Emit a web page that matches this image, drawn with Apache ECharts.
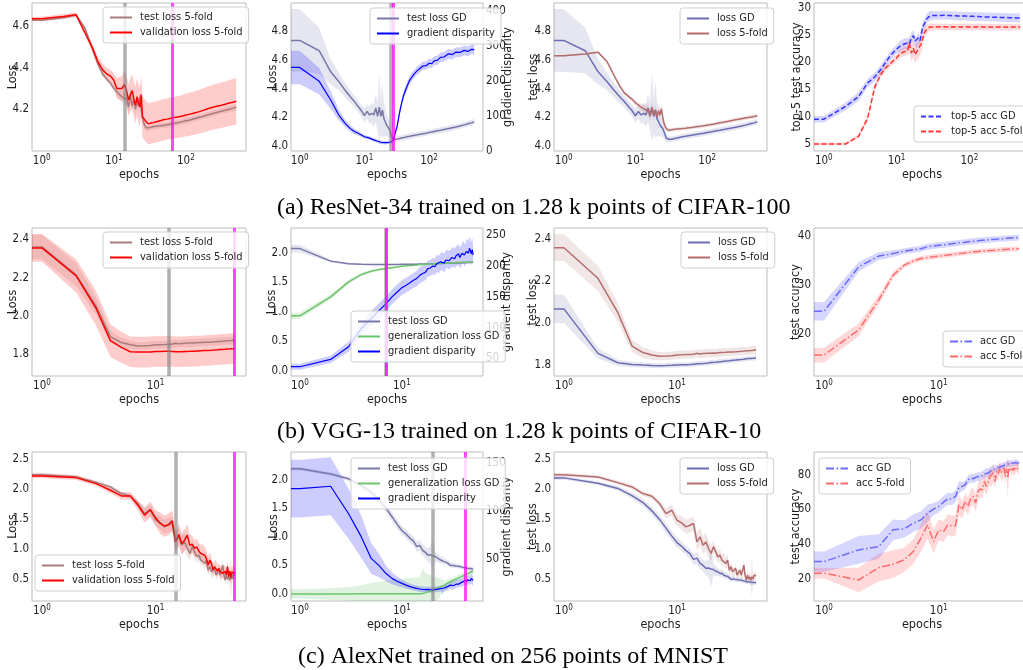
<!DOCTYPE html>
<html>
<head>
<meta charset="utf-8">
<title>Training curves: GD vs 5-fold</title>
<script src="https://cdn.jsdelivr.net/npm/echarts@6/dist/echarts.min.js"></script>
<style>
  html, body { margin: 0; padding: 0; background: #ffffff; }
  #chart { width: 1023px; height: 670px; }
</style>
</head>
<body>
<div id="chart"></div>
<script>
// ---------------------------------------------------------------------------
// Data
// ---------------------------------------------------------------------------

// (a) ResNet-34, CIFAR-100 (500 epochs, sampled)
const resnetEpochs = [1,2,3,4,5,6,7,8,9,10, 11,12,13,14,15,16,17,18,19,20, 21,22,23,24,25,26,27,28,29,30,
  32,35,38,40,45,50,55,60,65,70, 80,90,100,110,120,135,150,170,200,230, 260,300,350,400,450,500];

const resnetValLoss5Fold = [4.637,4.648,4.656,4.568,4.50,4.43,4.39,4.37,4.36,4.34, 4.30,4.30,4.30,4.32,4.29,4.245,4.27,4.29,4.245,4.22,
  4.26,4.23,4.21,4.27,4.165,4.155,4.148,4.14,4.135,4.13, 4.132,4.135,4.138,4.14,4.145,4.15,4.152,4.155,4.157,4.16,
  4.163,4.167,4.172,4.175,4.178,4.183,4.187,4.193,4.202,4.208, 4.213,4.218,4.224,4.23,4.234,4.238];
const resnetValLoss5FoldSd = [0.01,0.012,0.012,0.015,0.02,0.025,0.03,0.03,0.03,0.035, 0.05,0.055,0.06,0.07,0.07,0.075,0.08,0.08,0.085,0.09,
  0.09,0.095,0.095,0.1,0.1,0.1,0.1,0.1,0.1,0.1, 0.1,0.1,0.1,0.1,0.1,0.1,0.1,0.1,0.1,0.1,
  0.101,0.102,0.103,0.104,0.104,0.105,0.106,0.107,0.108,0.108, 0.109,0.11,0.11,0.111,0.112,0.113];

const resnetTestLoss5Fold = [4.63,4.642,4.655,4.59,4.495,4.42,4.37,4.345,4.325,4.30, 4.285,4.27,4.26,4.25,4.255,4.21,4.27,4.215,4.25,4.2,
  4.245,4.215,4.26,4.2,4.157,4.135,4.12,4.11,4.108,4.11, 4.112,4.115,4.117,4.118,4.12,4.122,4.125,4.127,4.13,4.132,
  4.136,4.14,4.144,4.147,4.15,4.155,4.16,4.165,4.172,4.178, 4.183,4.189,4.195,4.2,4.205,4.21];
const resnetTestLoss5FoldSd = [0.005,0.005,0.006,0.01,0.012,0.012,0.012,0.012,0.013,0.015, 0.02,0.025,0.03,0.03,0.035,0.04,0.04,0.035,0.04,0.035,
  0.035,0.03,0.03,0.03,0.025,0.02,0.018,0.015,0.015,0.015, 0.013,0.013,0.013,0.013,0.013,0.013,0.013,0.013,0.013,0.013,
  0.013,0.013,0.013,0.013,0.013,0.013,0.013,0.013,0.014,0.014, 0.014,0.014,0.015,0.015,0.016,0.016];

const resnetTestLossGD = [4.737,4.665,4.519,4.45,4.39,4.344,4.31,4.274,4.245,4.21, 4.24,4.215,4.227,4.215,4.265,4.205,4.27,4.205,4.25,4.19,
  4.168,4.145,4.133,4.12,4.098,4.075,4.052,4.048,4.045,4.044, 4.046,4.05,4.054,4.056,4.062,4.066,4.07,4.073,4.076,4.079,
  4.083,4.088,4.093,4.096,4.1,4.105,4.109,4.114,4.12,4.126, 4.131,4.138,4.146,4.154,4.16,4.167];
const resnetTestLossGDSd = [0.22,0.16,0.09,0.06,0.05,0.045,0.04,0.04,0.04,0.05, 0.05,0.06,0.07,0.08,0.1,0.1,0.25,0.12,0.2,0.12,
  0.1,0.08,0.07,0.06,0.05,0.04,0.03,0.025,0.02,0.02, 0.02,0.02,0.02,0.02,0.02,0.02,0.02,0.02,0.02,0.02,
  0.02,0.02,0.02,0.02,0.02,0.02,0.02,0.02,0.02,0.02, 0.02,0.02,0.02,0.02,0.02,0.02];

const resnetGradDisp = [239,199,146,103,79,64,55,50,45,40, 38,36,33,31,29,27,25,24,23.5,23,
  23,23,23.5,24,24.5,25,27,31,40,52, 69,110,140,156,182,202,213,222,229,234,
  243,244,251,250,258,260,268,269,278,276, 283,282,288,285,291,290];
const resnetGradDispSd = [48,38,26,16,11,9,8,7,6,6, 5,5,5,5,5,5,5,5,5,5,
  5,5,5,5,5,5,6,7,8,9, 10,11,12,12,12,12,12,12,12,12,
  12,12,13,13,13,13,13,14,14,14, 14,14,14,14,14,14];

const resnetAccGD = [9.55,11.9,13.7,16.2,17.3,18.6,19.9,21.0,21.8,22.4, 22.9,23.2,23.4,23.5,23.3,24.5,24.9,23.9,23.6,24.5,
  24.0,25.4,26.6,27.0,27.5,28.0,28.3,28.4,28.5,28.6, 28.6,28.6,28.6,28.65,28.65,28.6,28.6,28.55,28.55,28.5,
  28.5,28.5,28.45,28.45,28.4,28.4,28.35,28.35,28.3,28.3, 28.25,28.25,28.2,28.2,28.15,28.15];
const resnetAccGDSd = [0.6,0.7,0.8,0.8,0.8,0.8,0.8,0.8,0.8,0.8, 1.0,1.0,1.0,1.0,1.0,1.0,1.0,1.0,1.0,1.0,
  1.0,1.0,0.9,0.9,0.9,0.9,0.9,0.9,0.9,0.9, 0.8,0.8,0.8,0.8,0.8,0.8,0.8,0.8,0.8,0.8,
  0.8,0.8,0.8,0.8,0.8,0.8,0.8,0.8,0.8,0.8, 0.8,0.8,0.8,0.8,0.8,0.8];

const resnetAcc5Fold = [5.0,5.0,6.4,9.7,15.4,17.7,18.9,19.6,20.3,20.8, 21.5,21.8,22.0,22.0,23.5,21.7,22.6,21.4,22.0,22.3,
  23.0,23.5,24.5,25.4,25.8,26.0,26.3,26.4,26.5,26.5, 26.5,26.55,26.5,26.5,26.55,26.5,26.5,26.55,26.5,26.5,
  26.5,26.55,26.5,26.5,26.5,26.55,26.5,26.5,26.5,26.5, 26.5,26.5,26.45,26.5,26.5,26.5];
const resnetAcc5FoldSd = [0.25,0.25,0.4,0.6,0.7,0.6,0.6,0.6,0.6,0.6, 0.8,0.8,0.8,0.8,1.6,1.6,1.6,1.6,1.6,1.6,
  1.6,1.6,1.0,1.0,1.0,1.0,0.7,0.7,0.7,0.7, 0.6,0.6,0.6,0.6,0.6,0.6,0.6,0.6,0.6,0.6,
  0.6,0.6,0.6,0.6,0.6,0.6,0.6,0.6,0.6,0.6, 0.6,0.6,0.6,0.6,0.6,0.6];

// (b) VGG-13, CIFAR-10 and (c) AlexNet, MNIST (50 epochs)
const epochs50 = [1,2,3,4,5,6,7,8,9,10, 11,12,13,14,15,16,17,18,19,20, 21,22,23,24,25,26,27,28,29,30,
  31,32,33,34,35,36,37,38,39,40, 41,42,43,44,45,46,47,48,49,50];

const vggValLoss5Fold = [2.355,2.209,2.038,1.870,1.835,1.812,1.810,1.810,1.811,1.813, 1.813,1.814,1.814,1.813,1.812,1.812,1.812,1.813,1.813,1.814,
  1.815,1.815,1.816,1.816,1.817,1.817,1.818,1.818,1.819,1.820, 1.820,1.821,1.821,1.822,1.822,1.823,1.823,1.824,1.824,1.825,
  1.825,1.826,1.826,1.827,1.827,1.828,1.828,1.829,1.829,1.830];
const vggValLoss5FoldSd = [0.073,0.087,0.09,0.085,0.082,0.08,0.08,0.08,0.08,0.08, 0.08,0.08,0.08,0.08,0.08,0.08,0.08,0.08,0.08,0.08,
  0.08,0.08,0.08,0.08,0.08,0.08,0.08,0.08,0.08,0.08, 0.08,0.08,0.08,0.08,0.08,0.08,0.08,0.08,0.08,0.08,
  0.08,0.08,0.08,0.08,0.08,0.08,0.08,0.08,0.08,0.08];

const vggTestLoss5Fold = [2.36,2.214,2.05,1.891,1.86,1.848,1.842,1.843,1.845,1.848, 1.849,1.850,1.851,1.852,1.856,1.853,1.855,1.856,1.857,1.857,
  1.858,1.857,1.859,1.860,1.860,1.861,1.861,1.862,1.862,1.863, 1.863,1.864,1.864,1.865,1.865,1.866,1.866,1.866,1.867,1.867,
  1.868,1.868,1.869,1.869,1.870,1.870,1.871,1.871,1.872,1.872];
const vggTestLoss5FoldSd = [0.064,0.06,0.045,0.03,0.025,0.022,0.02,0.02,0.02,0.02, 0.02,0.02,0.02,0.02,0.02,0.02,0.02,0.02,0.02,0.02,
  0.02,0.02,0.02,0.02,0.02,0.02,0.02,0.02,0.02,0.02, 0.02,0.02,0.02,0.02,0.02,0.02,0.02,0.02,0.02,0.02,
  0.02,0.02,0.02,0.02,0.02,0.02,0.02,0.02,0.02,0.02];

const vggTestLossGD = [2.068,1.856,1.811,1.803,1.800,1.798,1.797,1.798,1.799,1.801, 1.802,1.802,1.803,1.804,1.806,1.807,1.808,1.809,1.810,1.812,
  1.813,1.814,1.815,1.816,1.817,1.818,1.819,1.820,1.821,1.822, 1.823,1.824,1.824,1.825,1.826,1.826,1.827,1.828,1.828,1.829,
  1.830,1.830,1.831,1.832,1.832,1.833,1.833,1.834,1.834,1.835];
const vggTestLossGDSd = [0.067,0.025,0.015,0.013,0.012,0.012,0.012,0.012,0.012,0.012, 0.012,0.012,0.012,0.012,0.012,0.012,0.012,0.012,0.012,0.012,
  0.012,0.012,0.012,0.012,0.012,0.012,0.012,0.012,0.012,0.012, 0.012,0.012,0.012,0.012,0.012,0.012,0.012,0.012,0.012,0.012,
  0.012,0.012,0.012,0.012,0.012,0.012,0.012,0.012,0.012,0.012];

const vggGenLossGD = [0.93,1.25,1.504,1.628,1.684,1.713,1.730,1.745,1.758,1.770, 1.776,1.782,1.787,1.792,1.797,1.800,1.803,1.806,1.808,1.810,
  1.812,1.814,1.816,1.817,1.819,1.820,1.822,1.823,1.824,1.825, 1.826,1.827,1.828,1.829,1.830,1.831,1.832,1.833,1.834,1.835,
  1.836,1.837,1.837,1.838,1.839,1.839,1.840,1.841,1.841,1.842];
const vggGenLossGDSd = [0.05,0.045,0.035,0.025,0.02,0.018,0.015,0.015,0.015,0.015, 0.015,0.015,0.015,0.015,0.015,0.015,0.015,0.015,0.015,0.015,
  0.015,0.015,0.015,0.015,0.015,0.015,0.015,0.015,0.015,0.015, 0.015,0.015,0.015,0.015,0.015,0.015,0.015,0.015,0.015,0.015,
  0.015,0.015,0.015,0.015,0.015,0.015,0.015,0.015,0.015,0.015];

const vggGradDisp = [36.5,48.4,69,98.6,115,128,139,150,158,165, 169,173,177,180,185,188,190,196,197,200,
  199,204,203,207,208,205,210,212,209,212, 214,215,212,217,216,220,214,215,221,223,
  218,219,224,226,221,229,225,220,227,218];
const vggGradDispSd = [5,6,8,10,12,12,12,12,12,12, 12,12,12,13,13,13,13,13,13,13,
  14,14,14,14,15,15,15,15,15,15, 16,16,16,16,17,17,17,17,18,18,
  18,18,18,19,19,19,19,19,19,19];

const vggAccGD = [24.7,33.7,35.9,36.4,36.9,37.2,37.4,37.8,37.95,38.1, 38.2,38.3,38.4,38.5,38.6,38.65,38.7,38.8,38.85,38.9,
  38.95,39.0,39.05,39.1,39.1,39.15,39.2,39.2,39.25,39.3, 39.3,39.35,39.35,39.4,39.4,39.45,39.45,39.5,39.5,39.5,
  39.55,39.55,39.55,39.6,39.6,39.6,39.6,39.65,39.65,39.6];
const vggAccGDSd = [1.9,1.0,0.8,0.7,0.6,0.6,0.6,0.6,0.6,0.6, 0.6,0.6,0.6,0.6,0.6,0.6,0.6,0.6,0.6,0.6,
  0.6,0.6,0.6,0.6,0.6,0.6,0.6,0.6,0.6,0.6, 0.6,0.6,0.6,0.6,0.6,0.6,0.6,0.6,0.6,0.6,
  0.6,0.6,0.6,0.6,0.6,0.6,0.6,0.6,0.6,0.6];

const vggAcc5Fold = [15.8,20.9,27.0,32.0,34.05,34.9,35.4,35.6,35.75,35.9, 36.0,36.1,36.2,36.3,36.4,36.45,36.55,36.6,36.7,36.8,
  36.8,36.85,36.9,36.9,36.95,37.0,37.0,37.05,37.05,37.1, 37.1,37.15,37.15,37.2,37.2,37.2,37.25,37.25,37.25,37.3,
  37.3,37.3,37.3,37.35,37.35,37.35,37.35,37.4,37.4,37.4];
const vggAcc5FoldSd = [1.5,1.3,1.0,0.7,0.5,0.5,0.5,0.5,0.5,0.5, 0.5,0.5,0.5,0.5,0.5,0.5,0.5,0.5,0.5,0.5,
  0.5,0.5,0.5,0.5,0.5,0.5,0.5,0.5,0.5,0.5, 0.5,0.5,0.5,0.5,0.5,0.5,0.5,0.5,0.5,0.5,
  0.5,0.5,0.5,0.5,0.5,0.5,0.5,0.5,0.5,0.5];

const alexValLoss5Fold = [2.222,2.194,2.094,1.983,1.889,1.889,1.733,1.567,1.661,1.522, 1.428,1.383,1.411,1.472,1.122,1.244,1.089,1.15,1.233,1.067,
  1.078,1.011,1.039,0.967,0.928,0.945,0.9,0.844,0.733,0.817, 0.761,0.65,0.706,0.72,0.633,0.678,0.622,0.63,0.594,0.622,
  0.63,0.567,0.706,0.539,0.63,0.522,0.62,0.6,0.585,0.622];
const alexValLoss5FoldSd = [0.04,0.04,0.04,0.05,0.06,0.06,0.08,0.13,0.13,0.13, 0.18,0.18,0.18,0.18,0.18,0.18,0.18,0.18,0.18,0.18,
  0.14,0.14,0.14,0.14,0.14,0.14,0.14,0.14,0.14,0.14, 0.1,0.1,0.1,0.1,0.1,0.1,0.1,0.1,0.1,0.1,
  0.1,0.1,0.1,0.1,0.1,0.1,0.1,0.1,0.1,0.1];

const alexTestLoss5Fold = [2.244,2.206,2.111,2.039,1.928,1.883,1.761,1.594,1.65,1.483, 1.439,1.372,1.4,1.428,1.122,1.206,1.067,1.122,1.011,0.928,
  1.039,0.956,0.872,0.9,0.817,0.84,0.761,0.817,0.65,0.706, 0.622,0.594,0.68,0.567,0.594,0.65,0.567,0.539,0.733,0.567,
  0.483,0.567,0.5,0.54,0.483,0.539,0.5,0.567,0.55,0.556];
const alexTestLoss5FoldSd = [0.03,0.03,0.03,0.035,0.04,0.04,0.05,0.08,0.1,0.1, 0.11,0.12,0.12,0.12,0.15,0.15,0.15,0.15,0.14,0.12,
  0.1,0.1,0.1,0.1,0.1,0.1,0.1,0.1,0.09,0.09, 0.09,0.08,0.08,0.08,0.08,0.08,0.08,0.08,0.1,0.08,
  0.07,0.07,0.07,0.08,0.1,0.35,0.08,0.07,0.07,0.06];

const alexTestLossGD = [2.19,2.1,2.014,1.895,1.778,1.64,1.497,1.352,1.218,1.11, 1.048,0.976,0.925,0.83,0.85,0.764,0.728,0.68,0.685,0.67,
  0.66,0.635,0.62,0.594,0.6,0.566,0.56,0.545,0.53,0.5, 0.505,0.5,0.495,0.49,0.49,0.485,0.48,0.475,0.47,0.463,
  0.46,0.458,0.455,0.452,0.45,0.447,0.445,0.443,0.44,0.438];
const alexTestLossGDSd = [0.03,0.03,0.04,0.05,0.06,0.07,0.07,0.08,0.08,0.08, 0.08,0.08,0.08,0.09,0.1,0.1,0.1,0.12,0.15,0.3,
  0.1,0.08,0.07,0.06,0.06,0.06,0.05,0.05,0.05,0.05, 0.04,0.04,0.04,0.04,0.04,0.04,0.04,0.04,0.04,0.04,
  0.04,0.04,0.04,0.04,0.04,0.04,0.04,0.04,0.04,0.04];

const alexGenLossGD = [0.002,0.002,0.002,0.003,0.003,0.003,0.003,0.004,0.004,0.004, 0.004,0.005,0.005,0.005,0.006,0.01,0.02,0.04,0.05,0.06,
  0.07,0.1,0.09,0.13,0.12,0.15,0.15,0.19,0.18,0.215, 0.225,0.24,0.25,0.26,0.273,0.28,0.29,0.3,0.31,0.32,
  0.33,0.34,0.345,0.35,0.36,0.37,0.38,0.39,0.395,0.4];
const alexGenLossGDSd = [0.08,0.1,0.12,0.15,0.19,0.21,0.23,0.24,0.25,0.26, 0.27,0.27,0.28,0.28,0.3,0.45,0.35,0.3,0.28,0.25,
  0.22,0.2,0.18,0.15,0.12,0.1,0.09,0.08,0.07,0.06, 0.06,0.06,0.06,0.06,0.06,0.06,0.06,0.06,0.06,0.06,
  0.05,0.05,0.05,0.05,0.05,0.05,0.05,0.05,0.05,0.05];

const alexGradDisp = [123,125.5,97,73,50.7,43,35,30,27,24.8, 23,21.4,20.5,19.7,19,18.6,18.3,18.6,18.2,18,
  18.5,18.6,19,19.3,18,20,20.5,21.4,22,23, 22.5,22.4,23.5,24,24.8,24,25.5,25.6,25,26.6,
  27.5,28.3,26,28.5,27.6,29,27.5,30,28,28];
const alexGradDispSd = [30,30,26,22,16,12,8,6,5,4, 3.5,3,3,3,3,3,3,3,3,3,
  3,3,3,3,3.5,3.5,3.5,3.5,3.5,4, 4,4,4,4,4,4,4,4,4,4.5,
  4.5,4.5,4.5,4.5,4.5,4.5,5,5,5,5];

const alexAccGD = [30,36.7,38.7,48.3,48.8,52.1,54,57.9,60.2,61.7, 64.2,66.2,66,67.5,72.7,73.3,74.2,77.1,78.1,77.7,
  78.5,79,78.8,79.6,80.4,81.5,81,81.9,82.5,83.5, 83.2,83.8,84,84.5,84.8,85,85.3,85.7,86,86.2,
  86.4,86.5,86.6,86.8,86.7,86.9,87,86.8,86.7,86.7];
const alexAccGDSd = [5.8,8,7,6,5,5,5,5,3.5,3.5, 3.5,3.5,3.5,3.5,3.5,2.5,2.5,2.5,2.5,2.5,
  2.5,2.5,2.5,2.5,2.5,2.5,2.5,2.5,2.5,2.5, 1.8,1.8,1.8,1.8,1.8,1.8,1.8,1.8,1.8,1.8,
  1.8,1.8,1.8,1.8,1.8,1.8,1.8,1.8,1.8,1.8];

const alexAcc5Fold = [23.3,19.4,26.5,28.5,31,35.8,43.5,51.2,41.5,48.3, 47.3,51.2,50.5,50.8,62.7,59.8,64.6,61.7,66.5,67.5,
  63.7,70.4,71.9,71.3,76.2,73.3,76.5,79,78,81, 76.2,81.9,80.5,83.5,81,80,84,79,83.5,78,
  84,84.8,82,83.8,82.5,83,84.5,84.8,83,84.2];
const alexAcc5FoldSd = [3,7,8,8,7,7,8,8,7,6, 6,6,6,6,6,5,5,5,5,5,
  5,5,5,5,5,5,5,5,5,5, 4,4,4,4,4,4,4,4,4,12,
  3,3,3,3,3,3,3,3,3,3];

// epochs at which the vertical markers sit (grey = selected, magenta = stopping point)
const resnetMarks = { kfold: [14, 64], gd: [26, 28] };
const vggMarks = { kfold: [13, 49], gd: [7, 7] };
const alexMarks = { kfold: [15, 49], gd: [20, 42] };

// tick labels
const ticksA_loss5 = [4.2, 4.4, 4.6];
const ticksA_lossGD = [4.0, 4.2, 4.4, 4.6, 4.8];
const ticksA_disp = [0, 100, 200, 300, 400];
const ticksA_acc = [5, 10, 15, 20, 25, 30];
const ticksB_loss = [1.8, 2.0, 2.2, 2.4];
const ticksB_lossGD = [0.0, 0.5, 1.0, 1.5, 2.0];
const ticksB_disp = [50, 100, 150, 200, 250];
const ticksB_acc = [20, 30, 40];
const ticksC_loss = [0.5, 1.0, 1.5, 2.0, 2.5];
const ticksC_lossGD = [0.0, 0.5, 1.0, 1.5, 2.0];
const ticksC_disp = [50, 100, 150];
const ticksC_acc = [20, 40, 60, 80];

const captionTexts = [
  '(a) ResNet-34 trained on 1.28 k points of CIFAR-100',
  '(b) VGG-13 trained on 1.28 k points of CIFAR-10',
  '(c) AlexNet trained on 256 points of MNIST'
];

// ---------------------------------------------------------------------------
// Styles and layout
// ---------------------------------------------------------------------------
const FONT = "'DejaVu Sans Condensed', 'DejaVu Sans', sans-serif";
const INK = '#1e1e1e';
const FRAME = '#bcbcbc';

const S = {
  val5:   { color: '#ff0000', width: 1.5 },
  test5:  { color: '#a87c7c', width: 1.5 },
  loss5:  { color: '#b46c6c', width: 1.5 },
  testGD: { color: '#7878a8', width: 1.5 },
  lossGD: { color: '#6c6cb4', width: 1.5 },
  disp:   { color: '#0000ff', width: 1.2 },
  gen:    { color: '#6cc46c', width: 1.5 },
  top5GD: { color: '#3535ff', width: 1.5, type: [5, 2.5] },
  top5K:  { color: '#ff3535', width: 1.5, type: [5, 2.5] },
  accGD:  { color: '#6a6aff', width: 1.5, type: [8, 2.5, 1.5, 2.5] },
  accK:   { color: '#ff6a6a', width: 1.5, type: [8, 2.5, 1.5, 2.5] }
};
const B = {
  red:   'rgba(255,0,0,0.2)',
  brown: 'rgba(150,60,60,0.13)',
  slate: 'rgba(90,90,160,0.15)',
  blue:  'rgba(0,0,255,0.2)',
  green: 'rgba(40,170,40,0.15)',
  accB:  'rgba(0,0,255,0.16)',
  accR:  'rgba(255,0,0,0.15)'
};
const GREY = 'rgba(128,128,128,0.62)';
const MAGENTA = 'rgba(255,0,255,0.72)';

const X_A = [0.733, 682];
const X_BC = [0.817, 62.5];
const COLS = [[32, 214], [291, 192], [554, 213], [814, 216]];
const ROWS = [[3, 148], [228, 148], [452, 149]];
const rect = (r, c) => [COLS[c][0], ROWS[r][0], COLS[c][1], ROWS[r][1]];

const L5 = ['test loss 5-fold', 'validation loss 5-fold'];
const LGD = ['test loss GD', 'generalization loss GD', 'gradient disparity'];
const LCMP = ['loss GD', 'loss 5-fold'];

const panels = [
  // ---- row (a)
  { rect: rect(0, 0), xr: X_A,
    left: { range: [3.998, 4.713], ticks: ticksA_loss5, digits: 1, name: 'Loss', gap: 13 },
    bands: [[resnetEpochs, resnetTestLoss5Fold, resnetTestLoss5FoldSd, B.brown], [resnetEpochs, resnetValLoss5Fold, resnetValLoss5FoldSd, B.red]],
    lines: [['test loss 5-fold', resnetEpochs, resnetTestLoss5Fold, S.test5], ['validation loss 5-fold', resnetEpochs, resnetValLoss5Fold, S.val5]],
    vlines: [[resnetMarks.kfold[0], GREY, 3.5], [resnetMarks.kfold[1], MAGENTA, 3]],
    legend: [103, 7, L5] },
  { rect: rect(0, 1), xr: X_A,
    left: { range: [3.963, 4.999], ticks: ticksA_lossGD, digits: 1, name: 'Loss', gap: 12 },
    right: { range: [-1, 424], ticks: ticksA_disp, digits: 0, name: 'gradient disparity', gap: 18 },
    bands: [[resnetEpochs, resnetTestLossGD, resnetTestLossGDSd, B.slate], [resnetEpochs, resnetGradDisp, resnetGradDispSd, B.blue, 1]],
    lines: [['test loss GD', resnetEpochs, resnetTestLossGD, S.testGD], ['gradient disparity', resnetEpochs, resnetGradDisp, S.disp, 1]],
    vlines: [[resnetMarks.gd[0], GREY, 3.5], [resnetMarks.gd[1], MAGENTA, 3]],
    legend: [370, 8, ['test loss GD', 'gradient disparity']] },
  { rect: rect(0, 2), xr: X_A,
    left: { range: [3.963, 4.999], ticks: ticksA_lossGD, digits: 1, name: 'test loss', gap: 14 },
    bands: [[resnetEpochs, resnetTestLossGD, resnetTestLossGDSd, B.slate], [resnetEpochs, resnetTestLoss5Fold, resnetTestLoss5FoldSd, B.brown]],
    lines: [['loss GD', resnetEpochs, resnetTestLossGD, S.lossGD], ['loss 5-fold', resnetEpochs, resnetTestLoss5Fold, S.loss5]],
    vlines: [],
    legend: [680, 8, LCMP] },
  { rect: rect(0, 3), xr: X_A,
    left: { range: [3.7, 30.9], ticks: ticksA_acc, digits: 0, name: 'top-5 test accuracy', gap: 11 },
    bands: [[resnetEpochs, resnetAccGD, resnetAccGDSd, B.accB], [resnetEpochs, resnetAcc5Fold, resnetAcc5FoldSd, B.accR]],
    lines: [['top-5 acc GD', resnetEpochs, resnetAccGD, S.top5GD], ['top-5 acc 5-fold', resnetEpochs, resnetAcc5Fold, S.top5K]],
    vlines: [],
    legend: [914, 106, ['top-5 acc GD', 'top-5 acc 5-fold']] },
  // ---- row (b)
  { rect: rect(1, 0), xr: X_BC,
    left: { range: [1.685, 2.459], ticks: ticksB_loss, digits: 1, name: 'Loss', gap: 13 },
    bands: [[epochs50, vggTestLoss5Fold, vggTestLoss5FoldSd, B.brown], [epochs50, vggValLoss5Fold, vggValLoss5FoldSd, B.red]],
    lines: [['test loss 5-fold', epochs50, vggTestLoss5Fold, S.test5], ['validation loss 5-fold', epochs50, vggValLoss5Fold, S.val5]],
    vlines: [[vggMarks.kfold[0], GREY, 3.5], [vggMarks.kfold[1], MAGENTA, 3]],
    legend: [103, 232, L5] },
  { rect: rect(1, 1), xr: X_BC,
    left: { range: [-0.09, 2.417], ticks: ticksB_lossGD, digits: 1, name: 'Loss', gap: 13 },
    right: { range: [21.4, 262], ticks: ticksB_disp, digits: 0, name: 'gradient disparity', gap: 17 },
    bands: [[epochs50, vggTestLossGD, vggTestLossGDSd, B.slate], [epochs50, vggGenLossGD, vggGenLossGDSd, B.green], [epochs50, vggGradDisp, vggGradDispSd, B.blue, 1]],
    lines: [['test loss GD', epochs50, vggTestLossGD, S.testGD], ['generalization loss GD', epochs50, vggGenLossGD, S.gen], ['gradient disparity', epochs50, vggGradDisp, S.disp, 1]],
    vlines: [[vggMarks.gd[0], GREY, 3.5], [vggMarks.gd[1], MAGENTA, 3]],
    legend: [351, 311, LGD] },
  { rect: rect(1, 2), xr: X_BC,
    left: { range: [1.748, 2.454], ticks: ticksB_loss, digits: 1, name: 'test loss', gap: 15 },
    bands: [[epochs50, vggTestLossGD, vggTestLossGDSd, B.slate], [epochs50, vggTestLoss5Fold, vggTestLoss5FoldSd, B.brown]],
    lines: [['loss GD', epochs50, vggTestLossGD, S.lossGD], ['loss 5-fold', epochs50, vggTestLoss5Fold, S.loss5]],
    vlines: [],
    legend: [681, 232, LCMP] },
  { rect: rect(1, 3), xr: X_BC,
    left: { range: [11.55, 41.6], ticks: ticksB_acc, digits: 0, name: 'test accuracy', gap: 12 },
    bands: [[epochs50, vggAccGD, vggAccGDSd, B.accB], [epochs50, vggAcc5Fold, vggAcc5FoldSd, B.accR]],
    lines: [['acc GD', epochs50, vggAccGD, S.accGD], ['acc 5-fold', epochs50, vggAcc5Fold, S.accK]],
    vlines: [],
    legend: [943, 331, ['acc GD', 'acc 5-fold']] },
  // ---- row (c)
  { rect: rect(2, 0), xr: X_BC,
    left: { range: [0.133, 2.622], ticks: ticksC_loss, digits: 1, name: 'Loss', gap: 13 },
    bands: [[epochs50, alexTestLoss5Fold, alexTestLoss5FoldSd, B.brown], [epochs50, alexValLoss5Fold, alexValLoss5FoldSd, B.red]],
    lines: [['test loss 5-fold', epochs50, alexTestLoss5Fold, S.test5], ['validation loss 5-fold', epochs50, alexValLoss5Fold, S.val5]],
    vlines: [[alexMarks.kfold[0], GREY, 3.5], [alexMarks.kfold[1], MAGENTA, 3]],
    legend: [35, 555, L5] },
  { rect: rect(2, 1), xr: X_BC,
    left: { range: [-0.122, 2.483], ticks: ticksC_lossGD, digits: 1, name: 'Loss', gap: 11 },
    right: { range: [6.55, 161], ticks: ticksC_disp, digits: 0, name: 'gradient disparity', gap: 17 },
    bands: [[epochs50, alexTestLossGD, alexTestLossGDSd, B.slate], [epochs50, alexGenLossGD, alexGenLossGDSd, B.green], [epochs50, alexGradDisp, alexGradDispSd, B.blue, 1]],
    lines: [['test loss GD', epochs50, alexTestLossGD, S.testGD], ['generalization loss GD', epochs50, alexGenLossGD, S.gen], ['gradient disparity', epochs50, alexGradDisp, S.disp, 1]],
    vlines: [[alexMarks.gd[0], GREY, 3.5], [alexMarks.gd[1], MAGENTA, 3]],
    legend: [351, 458, LGD] },
  { rect: rect(2, 2), xr: X_BC,
    left: { range: [0.135, 2.622], ticks: ticksC_loss, digits: 1, name: 'test loss', gap: 15 },
    bands: [[epochs50, alexTestLossGD, alexTestLossGDSd, B.slate], [epochs50, alexTestLoss5Fold, alexTestLoss5FoldSd, B.brown]],
    lines: [['loss GD', epochs50, alexTestLossGD, S.lossGD], ['loss 5-fold', epochs50, alexTestLoss5Fold, S.loss5]],
    vlines: [],
    legend: [680, 458, LCMP] },
  { rect: rect(2, 3), xr: X_BC,
    left: { range: [7.3, 93.1], ticks: ticksC_acc, digits: 0, name: 'test accuracy', gap: 12 },
    bands: [[epochs50, alexAccGD, alexAccGDSd, B.accB], [epochs50, alexAcc5Fold, alexAcc5FoldSd, B.accR]],
    lines: [['acc GD', epochs50, alexAccGD, S.accGD], ['acc 5-fold', epochs50, alexAcc5Fold, S.accK]],
    vlines: [],
    legend: [819, 458, ['acc GD', 'acc 5-fold']] }
];
const captionPos = [[277, 208], [277, 432], [298, 657]];

// ---------------------------------------------------------------------------
// Option building
// ---------------------------------------------------------------------------
// epoch 0 is clipped to the left edge of a log axis, so each curve starts there at its first value
function withLeftEdge(xs, ys, x0) {
  const out = [[x0, ys[0]]];
  xs.forEach((x, i) => out.push([x, ys[i]]));
  return out;
}

function bandSeries(gridIdx, yIdx, xs, ys, sd, color, x0) {
  const px = [x0].concat(xs);
  const hi = [ys[0] + sd[0]].concat(ys.map((v, i) => v + sd[i]));
  const lo = [ys[0] - sd[0]].concat(ys.map((v, i) => v - sd[i]));
  return {
    type: 'custom', xAxisIndex: gridIdx, yAxisIndex: yIdx, clip: true, silent: true, z: 1,
    data: [[px[0], ys[0]]],
    renderItem(params, api) {
      const pts = [];
      for (let i = 0; i < px.length; i++) pts.push(api.coord([px[i], hi[i]]));
      for (let i = px.length - 1; i >= 0; i--) pts.push(api.coord([px[i], lo[i]]));
      return { type: 'polygon', shape: { points: pts }, style: { fill: color } };
    }
  };
}

const labelText = { fontFamily: FONT, fontSize: 11.5, color: INK };

function valueAxis(gridIdx, spec, position) {
  return {
    type: 'value', gridIndex: gridIdx, position,
    min: spec.range[0], max: spec.range[1],
    name: spec.name, nameLocation: 'middle', nameGap: spec.gap, nameRotate: 90,
    nameMoveOverlap: false,
    nameTextStyle: { fontFamily: FONT, fontSize: 12.5, color: INK },
    axisLine: { show: false }, axisTick: { show: false }, splitLine: { show: false },
    axisLabel: Object.assign({
      margin: 3, customValues: spec.ticks, showMinLabel: true, showMaxLabel: true,
      formatter: v => Number(v).toFixed(spec.digits)
    }, labelText)
  };
}

const grids = [], xAxes = [], yAxes = [], series = [], legends = [];

panels.forEach((p, i) => {
  grids.push({
    left: p.rect[0], top: p.rect[1], width: p.rect[2], height: p.rect[3],
    show: true, borderColor: FRAME, borderWidth: 1, backgroundColor: 'transparent',
    containLabel: false, outerBoundsMode: 'none'
  });
  xAxes.push({
    type: 'log', logBase: 10, gridIndex: i, min: p.xr[0], max: p.xr[1],
    name: 'epochs', nameLocation: 'middle', nameGap: 17,
    nameTextStyle: { fontFamily: FONT, fontSize: 12.5, color: INK },
    axisLine: { show: false }, axisTick: { show: false }, splitLine: { show: false }, minorTick: { show: false },
    axisLabel: {
      margin: 3, showMinLabel: false, showMaxLabel: false,
      formatter: v => {
        const lg = Math.log10(v), e = Math.round(lg);
        return Math.abs(lg - e) > 1e-6 ? '' : '{b|10}{s|' + e + '}';
      },
      rich: {
        b: { fontFamily: FONT, fontSize: 11.5, color: INK, lineHeight: 15 },
        s: { fontFamily: FONT, fontSize: 8, color: INK, lineHeight: 9, verticalAlign: 'top' }
      }
    }
  });
  const yl = yAxes.length;
  yAxes.push(valueAxis(i, p.left, 'left'));
  let yr = yl;
  if (p.right) { yr = yAxes.length; yAxes.push(valueAxis(i, p.right, 'right')); }

  p.bands.forEach(b => series.push(bandSeries(i, b[4] ? yr : yl, b[0], b[1], b[2], b[3], p.xr[0])));
  p.lines.forEach((l, k) => {
    const st = l[3];
    const s = {
      type: 'line', name: l[0], xAxisIndex: i, yAxisIndex: l[4] ? yr : yl,
      data: withLeftEdge(l[1], l[2], p.xr[0]),
      symbol: 'none', showSymbol: false, clip: true, silent: true, z: 3,
      lineStyle: { color: st.color, width: st.width, type: st.type || 'solid' },
      itemStyle: { color: st.color },
      emphasis: { disabled: true }
    };
    if (k === 0 && p.vlines.length) {
      s.markLine = {
        silent: true, symbol: ['none', 'none'], label: { show: false }, animation: false,
        emphasis: { disabled: true },
        data: p.vlines.map(v => ({ xAxis: v[0], lineStyle: { color: v[1], width: v[2], type: 'solid' } }))
      };
    }
    series.push(s);
  });
  legends.push({
    orient: 'vertical', left: p.legend[0], top: p.legend[1], data: p.legend[2],
    itemWidth: 22, itemHeight: 10, itemGap: 4, padding: [5, 6, 5, 6],
    backgroundColor: 'rgba(255,255,255,0.8)', borderColor: '#cfcfcf', borderWidth: 1, borderRadius: 3,
    selectedMode: false, z: 6,
    itemStyle: { opacity: 0, borderWidth: 0 },
    textStyle: { fontFamily: FONT, fontSize: 11, color: INK, padding: [0, 0, 0, 3] }
  });
});

const option = {
  animation: false,
  backgroundColor: '#ffffff',
  grid: grids, xAxis: xAxes, yAxis: yAxes, series, legend: legends,
  graphic: captionTexts.map((t, i) => ({
    type: 'text', x: captionPos[i][0], y: captionPos[i][1], silent: true,
    style: { text: t, fontFamily: "'Liberation Serif', serif", fontSize: 24, fill: '#000', verticalAlign: 'middle', align: 'left' }
  }))
};

const chart = echarts.init(document.getElementById('chart'), null, { renderer: 'canvas' });
chart.setOption(option);
</script>
</body>
</html>
